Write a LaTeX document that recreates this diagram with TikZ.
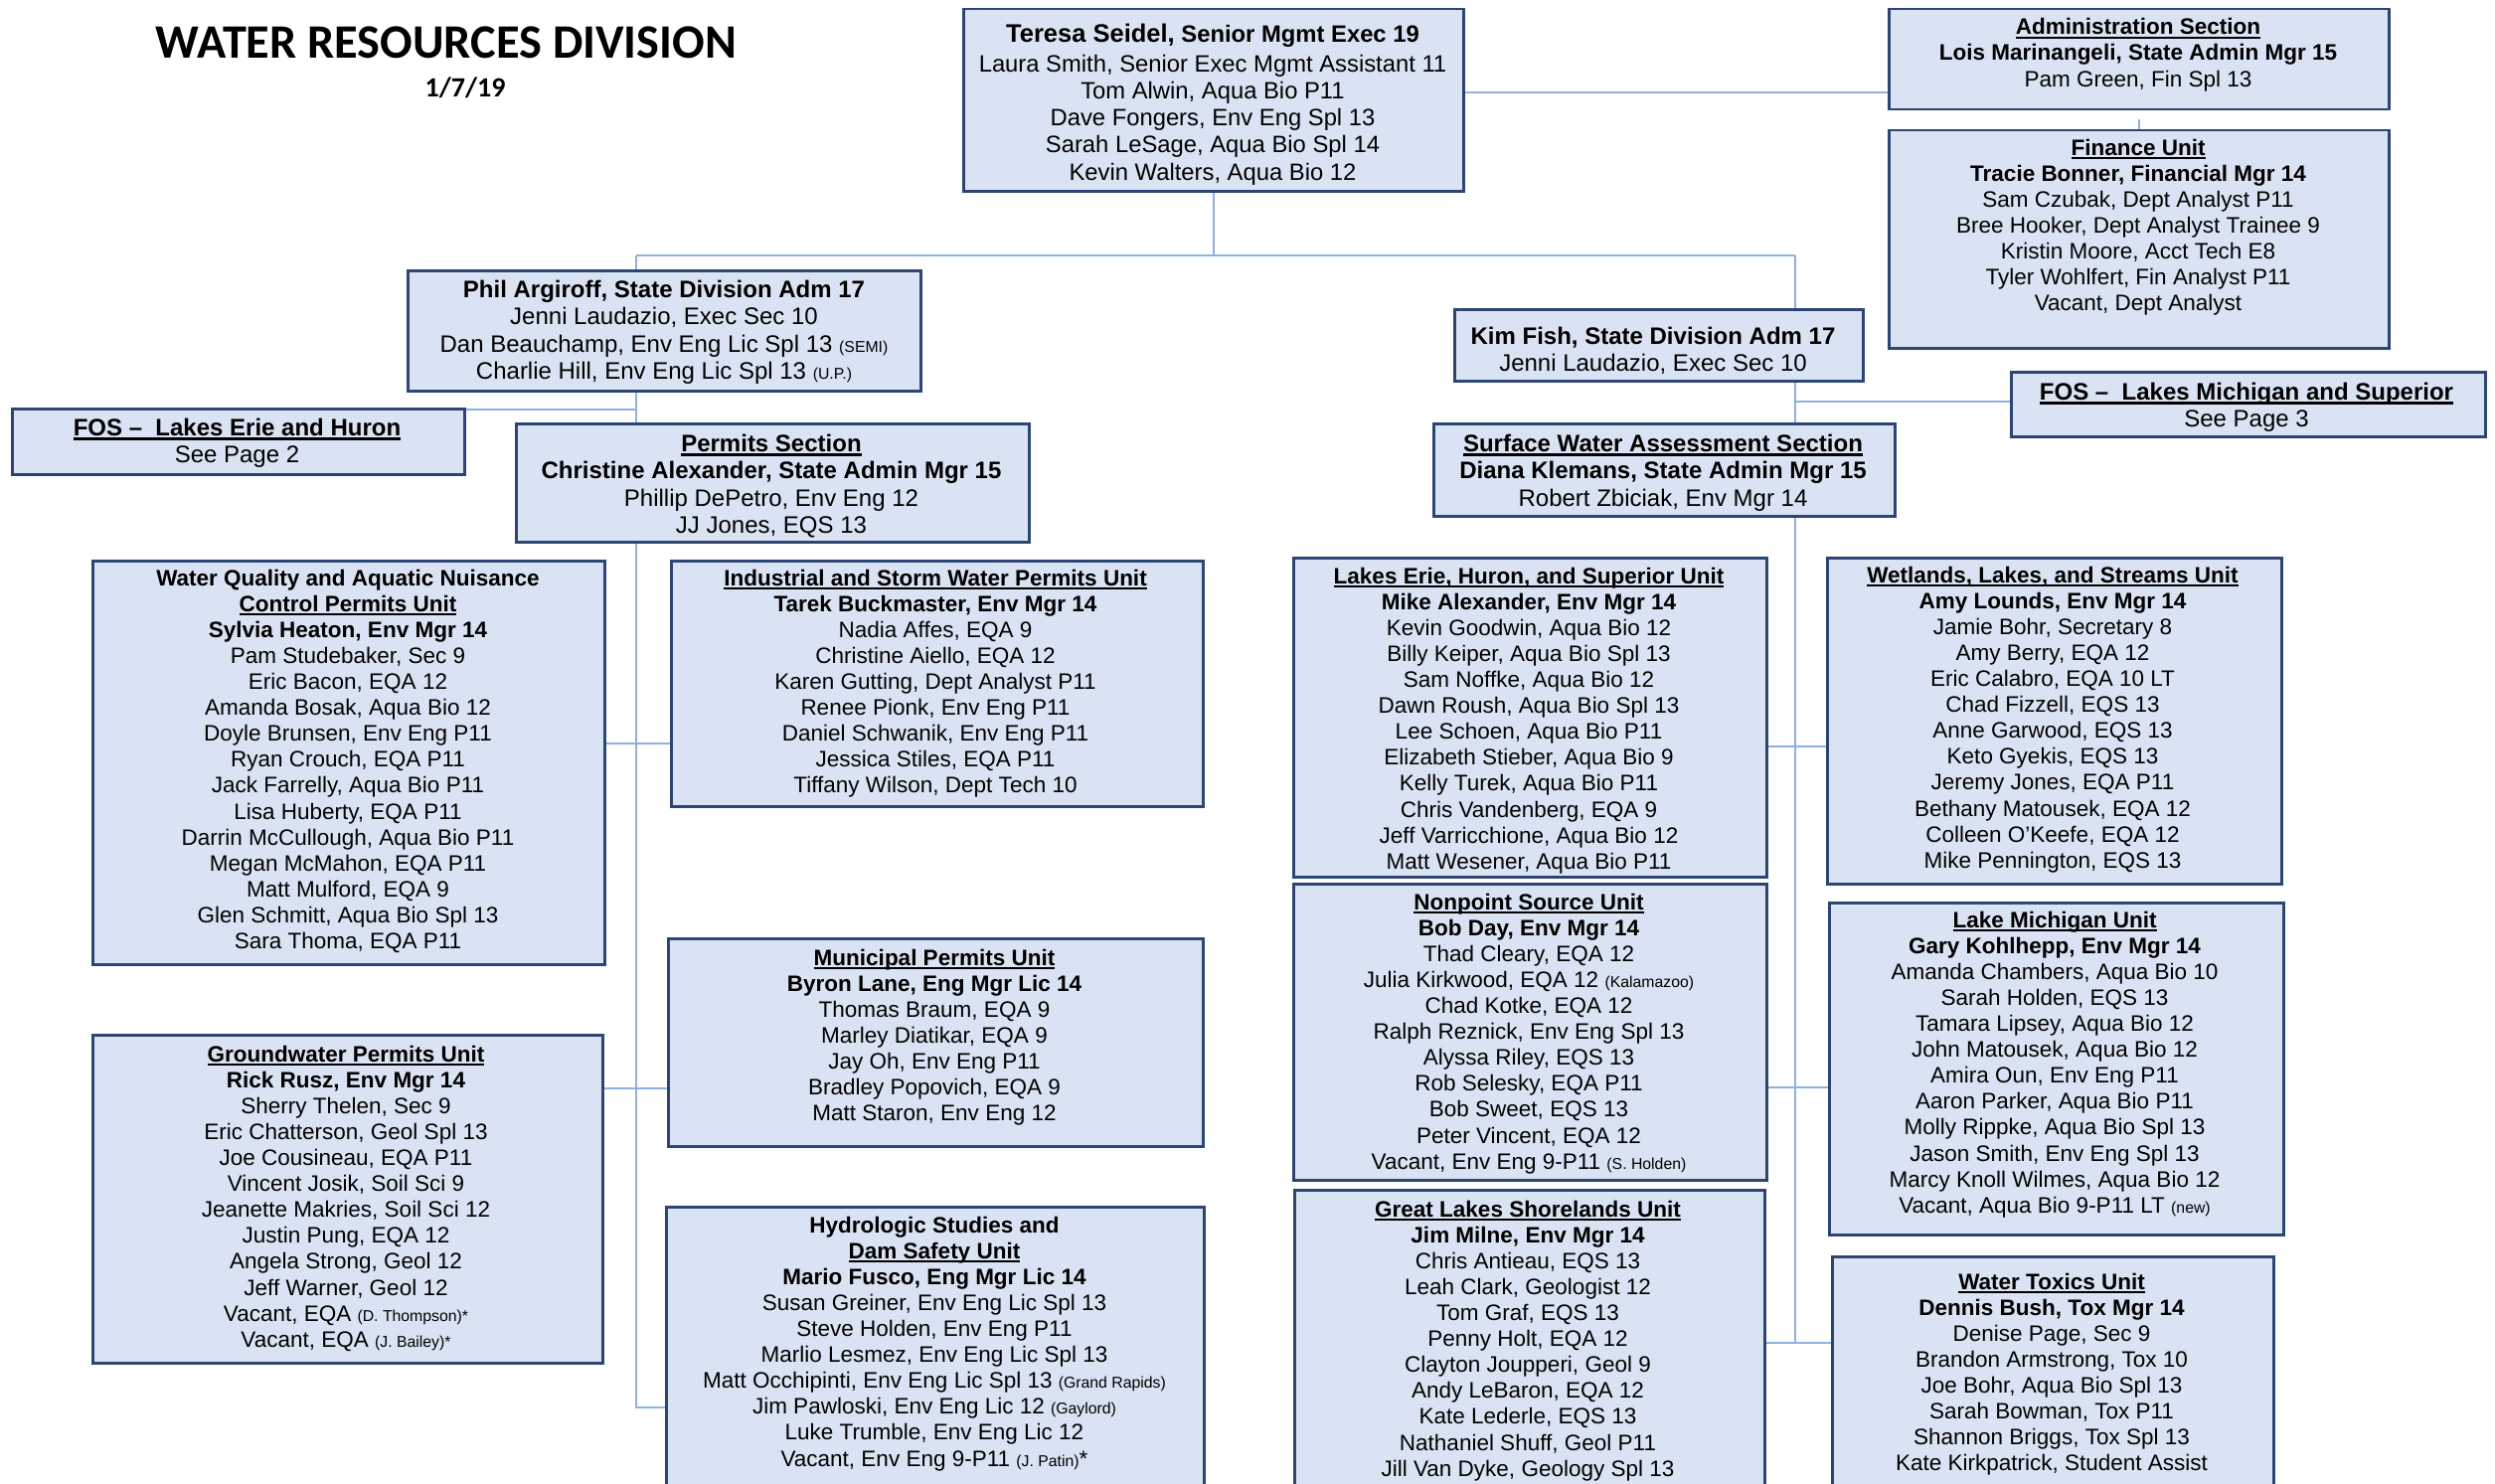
\documentclass[tikz,border=0pt]{standalone}
\usepackage{fontspec}
\setmainfont{Liberation Sans}
\newfontfamily\titlefont{Carlito}
\usetikzlibrary{backgrounds}
\definecolor{boxfill}{HTML}{DAE3F3}
\definecolor{boxline}{HTML}{2C4573}
\definecolor{conn}{HTML}{8EB1DF}
\newcommand\fontunit{\fontsize{22.5}{26.1}\selectfont}
\newcommand\fontsec{\fontsize{24}{27.3}\selectfont}
\newcommand\fonttop{\fontsize{23.8}{27.2}\selectfont}
\newcommand\smtxt{\fontsize{15.8}{16}\selectfont}
\newlength\ulw
\newcommand\ulx[1]{\settowidth\ulw{#1}\rlap{\rule[-4pt]{\ulw}{2.2pt}}#1}
\tikzset{
  orgbox/.style={draw=boxline, fill=boxfill, line width=2.5pt, inner sep=0pt, anchor=north west},
  orgtxt/.style={inner sep=0pt, anchor=north, align=center, text=black},
  link/.style={draw=conn, line width=2.2pt},
}
\newcommand\mkbox[5]{\pgfmathsetmacro\bw{#4-#2}\pgfmathsetmacro\bh{#5-#3}%
  \node[orgbox, minimum width=\bw pt, minimum height=\bh pt] (#1) at (#2,-#3) {};}
\begin{document}
\begin{tikzpicture}[x=1pt,y=1pt]
\useasboundingbox (0,0) rectangle (2510,-1493);

% title
\node[font=\titlefont\bfseries\fontsize{48.3}{52}\selectfont, anchor=base] (title) at (449,-59) {WATER RESOURCES DIVISION};
\node[font=\titlefont\bfseries\fontsize{28}{30}\selectfont, anchor=base] (date) at (468,-98) {1/7/19};

% boxes
\mkbox{top}{968}{8}{1471}{191}
\mkbox{admin}{1899}{8}{2402}{109}
\mkbox{fin}{1899}{130}{2402}{349}
\mkbox{phil}{409}{271}{925}{392}
\mkbox{fosL}{11}{410}{466}{476}
\mkbox{permits}{518}{425}{1034}{544}
\mkbox{kim}{1462}{310}{1873}{382}
\mkbox{fosR}{2022}{373}{2499}{438}
\mkbox{swa}{1441}{425}{1905}{518}
\mkbox{wq}{92}{563}{607}{969}
\mkbox{ind}{674}{563}{1209}{810}
\mkbox{mun}{671}{943}{1209}{1152}
\mkbox{gw}{92}{1040}{605}{1370}
\mkbox{hyd}{669}{1213}{1210}{1510}
\mkbox{lei}{1300}{560}{1776}{881}
\mkbox{wet}{1837}{560}{2294}{888}
\mkbox{nps}{1300}{888}{1776}{1186}
\mkbox{lm}{1839}{907}{2296}{1241}
\mkbox{gls}{1301}{1196}{1774}{1510}
\mkbox{wt}{1842}{1263}{2286}{1510}

% texts
\node[orgtxt, font=\fonttop] (topT) at (1220,-23.5) {\textbf{{\fontsize{25.5}{27.2}\selectfont Teresa Seidel,} Senior Mgmt Exec 19}\\[3pt]
Laura Smith, Senior Exec Mgmt Assistant 11\\
Tom Alwin, Aqua Bio P11\\
Dave Fongers, Env Eng Spl 13\\
Sarah LeSage, Aqua Bio Spl 14\\
Kevin Walters, Aqua Bio 12};

\node[orgtxt, font=\fontunit] (adminT) at (2151,-18.3) {\textbf{\ulx{Administration Section}}\\
\textbf{Lois Marinangeli, State Admin Mgr 15}\\
Pam Green, Fin Spl 13};

\node[orgtxt, font=\fontunit] (finT) at (2151,-139.6) {\textbf{\ulx{Finance Unit}}\\
\textbf{Tracie Bonner, Financial Mgr 14}\\
Sam Czubak, Dept Analyst P11\\
Bree Hooker, Dept Analyst Trainee 9\\
Kristin Moore, Acct Tech E8\\
Tyler Wohlfert, Fin Analyst P11\\
Vacant, Dept Analyst};

\node[orgtxt, font=\fontsec] (philT) at (668,-282) {\textbf{Phil Argiroff, State Division Adm 17}\\
Jenni Laudazio, Exec Sec 10\\
Dan Beauchamp, Env Eng Lic Spl 13 {\smtxt (SEMI)}\\
Charlie Hill, Env Eng Lic Spl 13 {\smtxt (U.P.)}};

\node[orgtxt, font=\fontsec] (fosLT) at (238.5,-421) {\textbf{\ulx{FOS –\ \ Lakes Erie and Huron}}\\
See Page 2};

\node[orgtxt, font=\fontsec] (permitsT) at (776,-437) {\textbf{\ulx{Permits Section}}\\
\textbf{Christine Alexander, State Admin Mgr 15}\\
Phillip DePetro, Env Eng 12\\
JJ Jones, EQS 13};

\node[orgtxt, font=\fontsec] (kimT) at (1663,-329) {\textbf{Kim Fish, State Division Adm 17}\\
Jenni Laudazio, Exec Sec 10};

\node[orgtxt, font=\fontsec] (fosRT) at (2260,-385) {\textbf{\ulx{FOS –\ \ Lakes Michigan and Superior}}\\
See Page 3};

\node[orgtxt, font=\fontsec] (swaT) at (1673,-437) {\textbf{\ulx{Surface Water Assessment Section}}\\
\textbf{Diana Klemans, State Admin Mgr 15}\\
Robert Zbiciak, Env Mgr 14};

\node[orgtxt, font=\fontunit] (wqT) at (350,-572.6) {\textbf{Water Quality and Aquatic Nuisance}\\
\textbf{\ulx{Control Permits Unit}}\\
\textbf{Sylvia Heaton, Env Mgr 14}\\
Pam Studebaker, Sec 9\\
Eric Bacon, EQA 12\\
Amanda Bosak, Aqua Bio 12\\
Doyle Brunsen, Env Eng P11\\
Ryan Crouch, EQA P11\\
Jack Farrelly, Aqua Bio P11\\
Lisa Huberty, EQA P11\\
Darrin McCullough, Aqua Bio P11\\
Megan McMahon, EQA P11\\
Matt Mulford, EQA 9\\
Glen Schmitt, Aqua Bio Spl 13\\
Sara Thoma, EQA P11};

\node[orgtxt, font=\fontunit] (indT) at (941,-572.6) {\textbf{\ulx{Industrial and Storm Water Permits Unit}}\\
\textbf{Tarek Buckmaster, Env Mgr 14}\\
Nadia Affes, EQA 9\\
Christine Aiello, EQA 12\\
Karen Gutting, Dept Analyst P11\\
Renee Pionk, Env Eng P11\\
Daniel Schwanik, Env Eng P11\\
Jessica Stiles, EQA P11\\
Tiffany Wilson, Dept Tech 10};

\node[orgtxt, font=\fontunit] (munT) at (940,-954.6) {\textbf{\ulx{Municipal Permits Unit}}\\
\textbf{Byron Lane, Eng Mgr Lic 14}\\
Thomas Braum, EQA 9\\
Marley Diatikar, EQA 9\\
Jay Oh, Env Eng P11\\
Bradley Popovich, EQA 9\\
Matt Staron, Env Eng 12};

\node[orgtxt, font=\fontunit] (gwT) at (348,-1051.6) {\textbf{\ulx{Groundwater Permits Unit}}\\
\textbf{Rick Rusz, Env Mgr 14}\\
Sherry Thelen, Sec 9\\
Eric Chatterson, Geol Spl 13\\
Joe Cousineau, EQA P11\\
Vincent Josik, Soil Sci 9\\
Jeanette Makries, Soil Sci 12\\
Justin Pung, EQA 12\\
Angela Strong, Geol 12\\
Jeff Warner, Geol 12\\
Vacant, EQA {\smtxt (D. Thompson)*}\\
Vacant, EQA {\smtxt (J. Bailey)*}};

\node[orgtxt, font=\fontunit] (hydT) at (940,-1223.6) {\textbf{Hydrologic Studies and}\\
\textbf{\ulx{Dam Safety Unit}}\\
\textbf{Mario Fusco, Eng Mgr Lic 14}\\
Susan Greiner, Env Eng Lic Spl 13\\
Steve Holden, Env Eng P11\\
Marlio Lesmez, Env Eng Lic Spl 13\\
Matt Occhipinti, Env Eng Lic Spl 13 {\smtxt (Grand Rapids)}\\
Jim Pawloski, Env Eng Lic 12 {\smtxt (Gaylord)}\\
Luke Trumble, Env Eng Lic 12\\
Vacant, Env Eng 9-P11 {\smtxt (J. Patin)}*};

\node[orgtxt, font=\fontunit] (leiT) at (1538,-570.6) {\textbf{\ulx{Lakes Erie, Huron, and Superior Unit}}\\
\textbf{Mike Alexander, Env Mgr 14}\\
Kevin Goodwin, Aqua Bio 12\\
Billy Keiper, Aqua Bio Spl 13\\
Sam Noffke, Aqua Bio 12\\
Dawn Roush, Aqua Bio Spl 13\\
Lee Schoen, Aqua Bio P11\\
Elizabeth Stieber, Aqua Bio 9\\
Kelly Turek, Aqua Bio P11\\
Chris Vandenberg, EQA 9\\
Jeff Varricchione, Aqua Bio 12\\
Matt Wesener, Aqua Bio P11};

\node[orgtxt, font=\fontunit] (wetT) at (2065,-569.6) {\textbf{\ulx{Wetlands, Lakes, and Streams Unit}}\\
\textbf{Amy Lounds, Env Mgr 14}\\
Jamie Bohr, Secretary 8\\
Amy Berry, EQA 12\\
Eric Calabro, EQA 10 LT\\
Chad Fizzell, EQS 13\\
Anne Garwood, EQS 13\\
Keto Gyekis, EQS 13\\
Jeremy Jones, EQA P11\\
Bethany Matousek, EQA 12\\
Colleen O’Keefe, EQA 12\\
Mike Pennington, EQS 13};

\node[orgtxt, font=\fontunit] (npsT) at (1538,-898.6) {\textbf{\ulx{Nonpoint Source Unit}}\\
\textbf{Bob Day, Env Mgr 14}\\
Thad Cleary, EQA 12\\
Julia Kirkwood, EQA 12 {\smtxt (Kalamazoo)}\\
Chad Kotke, EQA 12\\
Ralph Reznick, Env Eng Spl 13\\
Alyssa Riley, EQS 13\\
Rob Selesky, EQA P11\\
Bob Sweet, EQS 13\\
Peter Vincent, EQA 12\\
Vacant, Env Eng 9-P11 {\smtxt (S. Holden)}};

\node[orgtxt, font=\fontunit] (lmT) at (2067,-916.6) {\textbf{\ulx{Lake Michigan Unit}}\\
\textbf{Gary Kohlhepp, Env Mgr 14}\\
Amanda Chambers, Aqua Bio 10\\
Sarah Holden, EQS 13\\
Tamara Lipsey, Aqua Bio 12\\
John Matousek, Aqua Bio 12\\
Amira Oun, Env Eng P11\\
Aaron Parker, Aqua Bio P11\\
Molly Rippke, Aqua Bio Spl 13\\
Jason Smith, Env Eng Spl 13\\
Marcy Knoll Wilmes, Aqua Bio 12\\
Vacant, Aqua Bio 9-P11 LT {\smtxt (new)}};

\node[orgtxt, font=\fontunit] (glsT) at (1537,-1207.6) {\textbf{\ulx{Great Lakes Shorelands Unit}}\\
\textbf{Jim Milne, Env Mgr 14}\\
Chris Antieau, EQS 13\\
Leah Clark, Geologist 12\\
Tom Graf, EQS 13\\
Penny Holt, EQA 12\\
Clayton Joupperi, Geol 9\\
Andy LeBaron, EQA 12\\
Kate Lederle, EQS 13\\
Nathaniel Shuff, Geol P11\\
Jill Van Dyke, Geology Spl 13};

\node[orgtxt, font=\fontunit] (wtT) at (2064,-1280.6) {\textbf{\ulx{Water Toxics Unit}}\\
\textbf{Dennis Bush, Tox Mgr 14}\\
Denise Page, Sec 9\\
Brandon Armstrong, Tox 10\\
Joe Bohr, Aqua Bio Spl 13\\
Sarah Bowman, Tox P11\\
Shannon Briggs, Tox Spl 13\\
Kate Kirkpatrick, Student Assist};

% connectors
\begin{scope}[on background layer]
\fill[white] (0,0) rectangle (2510,-1493);
\coordinate (jL) at (640,-257);
\coordinate (jR) at (1806,-257);
\coordinate (jLb) at (640,-1416);
\coordinate (jRb) at (1806,-1351);
\draw[link] (top.south) -- (top.south |- jL);
\draw[link] (jL) -- (jR);
\draw[link] (jL) -- (jLb) -- (hyd.west |- jLb);
\draw[link] (fosL.east |- 0,-412) -- (jL |- 0,-412);
\draw[link] (wq.east |- 0,-748) -- (ind.west |- 0,-748);
\draw[link] (gw.east |- 0,-1095) -- (mun.west |- 0,-1095);
\draw[link] (jR) -- (jRb);
\draw[link] (fosR.west |- 0,-404) -- (jR |- 0,-404);
\draw[link] (lei.east |- 0,-751) -- (wet.west |- 0,-751);
\draw[link] (nps.east |- 0,-1094) -- (lm.west |- 0,-1094);
\draw[link] (gls.east |- jRb) -- (wt.west |- jRb);
\draw[link] (top.east |- 0,-93) -- (admin.west |- 0,-93);
\draw[link] ([yshift=-9pt]admin.south) -- (fin.north);
\end{scope}
\end{tikzpicture}
\end{document}
